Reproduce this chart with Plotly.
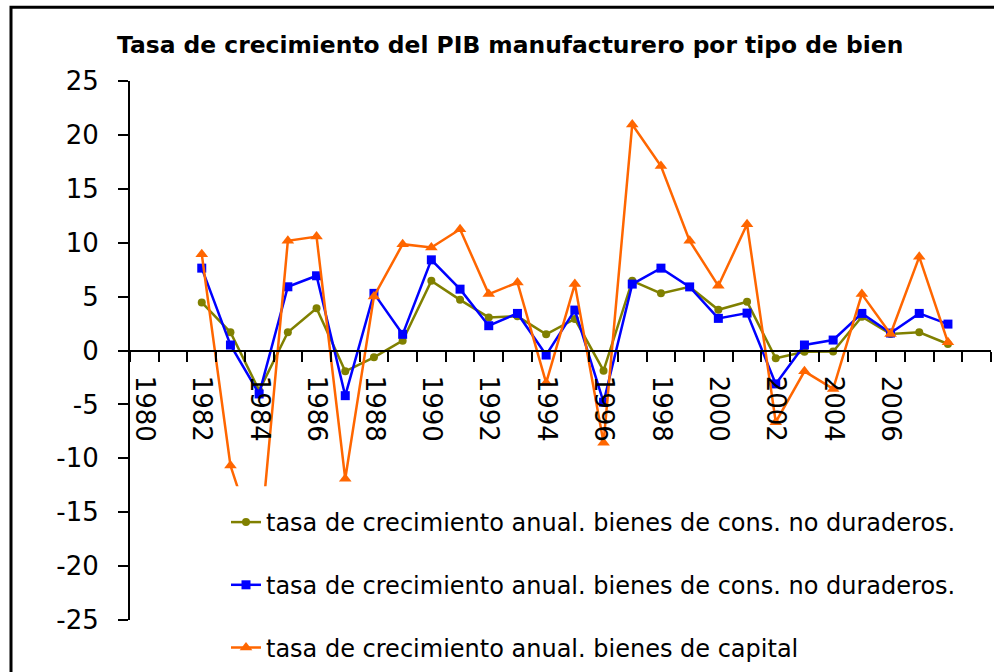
import plotly.graph_objects as go

years = list(range(1982, 2009))
tick_years = list(range(1980, 2007, 2))
tick_labels = [str(y) for y in tick_years]
y_ticks = list(range(-25, 26, 5))
y_tick_labels = [str(v) for v in y_ticks]

cons_no_dur_a = [4.46, 1.69, -3.72, 1.69, 3.91, -1.93, -0.63, 0.91, 6.46, 4.70,
                 3.07, 3.17, 1.50, 2.92, -1.87, 6.46, 5.30, 5.90, 3.78, 4.52,
                 -0.72, -0.12, -0.10, 3.13, 1.53, 1.69, 0.60]
cons_no_dur_b = [7.64, 0.51, -4.03, 5.91, 6.93, -4.19, 5.30, 1.50, 8.41, 5.69,
                 2.30, 3.44, -0.42, 3.75, -4.80, 6.16, 7.64, 5.90, 2.98, 3.47,
                 -3.10, 0.51, 0.97, 3.44, 1.62, 3.44, 2.45]
capital = [8.94, -10.67, -18.8, 10.17, 10.57, -11.9, 5.02, 9.86, 9.56, 11.25,
           5.23, 6.31, -3.0, 6.16, -8.56, 20.97, 17.11, 10.17, 6.0, 11.71,
           -6.65, -1.93, -3.56, 5.23, 1.53, 8.69, 0.76]

names = ["tasa de crecimiento anual. bienes de cons. no duraderos.",
         "tasa de crecimiento anual. bienes de cons. no duraderos.",
         "tasa de crecimiento anual. bienes de capital"]
colors = ["#808000", "#0000FF", "#FF6600"]
symbols = ["circle", "square", "triangle-up"]
sizes = [8, 9, 11]
series = [cons_no_dur_a, cons_no_dur_b, capital]

W, H = 994, 672
L, R, T, B = 130, 3, 81, 51
pw, ph = W - L - R, H - T - B

def px_x(p):
    return (p - L) / pw

def px_y(p):
    return (H - B - p) / ph

fig = go.Figure()
for i, s in enumerate(series):
    fig.add_trace(go.Scatter(
        x=years, y=s, mode="lines+markers", name=names[i],
        line=dict(color=colors[i], width=2.5),
        marker=dict(symbol=symbols[i], size=sizes[i], color=colors[i]),
        legendgroup=f"g{i}",
    ))

minor_vals = [y - 0.5 for y in range(1980, 2011)]

fig.update_layout(
    width=W, height=H,
    margin=dict(l=L, r=R, t=T, b=B, pad=0),
    paper_bgcolor="white", plot_bgcolor="white",
    font=dict(family="DejaVu Sans", color="black"),
    showlegend=True,
    legend=dict(
        x=px_x(226), y=px_y(500), xanchor="left", yanchor="top",
        bgcolor="rgba(255,255,255,0)", borderwidth=0,
        font=dict(family="DejaVu Sans", size=24, color="black"),
        traceorder="grouped", tracegroupgap=28.5,
    ),
    xaxis=dict(
        range=[1979.5, 2009.5], anchor="free", position=0.5,
        showline=True, linecolor="black", linewidth=2,
        showgrid=False, zeroline=False,
        tickmode="array", tickvals=tick_years, ticktext=tick_labels,
        tickangle=90, ticks="outside", ticklen=19, tickcolor="rgba(0,0,0,0)",
        tickfont=dict(family="DejaVu Sans", size=26, color="black"),
        minor=dict(ticks="outside", ticklen=10, tickwidth=2, tickcolor="black",
                   tickmode="array", tickvals=minor_vals, showgrid=False),
    ),
    yaxis=dict(
        range=[-25, 25], tickmode="array", tickvals=y_ticks, ticktext=y_tick_labels,
        showline=True, linecolor="black", linewidth=2,
        showgrid=False, zeroline=False,
        ticks="outside", ticklen=10, tickwidth=2, tickcolor="black",
        ticklabelstandoff=14,
        tickfont=dict(family="DejaVu Sans", size=26, color="black"),
    ),
    shapes=[
        dict(type="rect", xref="paper", yref="paper", layer="above",
             x0=px_x(195), x1=px_x(975), y0=px_y(668), y1=px_y(487),
             fillcolor="white", line=dict(width=0)),
        dict(type="rect", xref="paper", yref="paper", layer="above",
             x0=px_x(11), x1=px_x(1000), y0=px_y(680), y1=px_y(7),
             fillcolor="rgba(0,0,0,0)", line=dict(color="black", width=3)),
    ],
    annotations=[
        dict(text="<b>Tasa de crecimiento del PIB manufacturero por tipo de bien</b>",
             xref="paper", yref="paper", x=px_x(510), y=px_y(45),
             xanchor="center", yanchor="middle", showarrow=False,
             font=dict(family="DejaVu Sans", size=23.4, color="black")),
    ],
)

fig.write_html("out.html",
               config={"displayModeBar": False},
               post_script="document.body.style.margin='0';document.body.style.overflow='hidden';")
